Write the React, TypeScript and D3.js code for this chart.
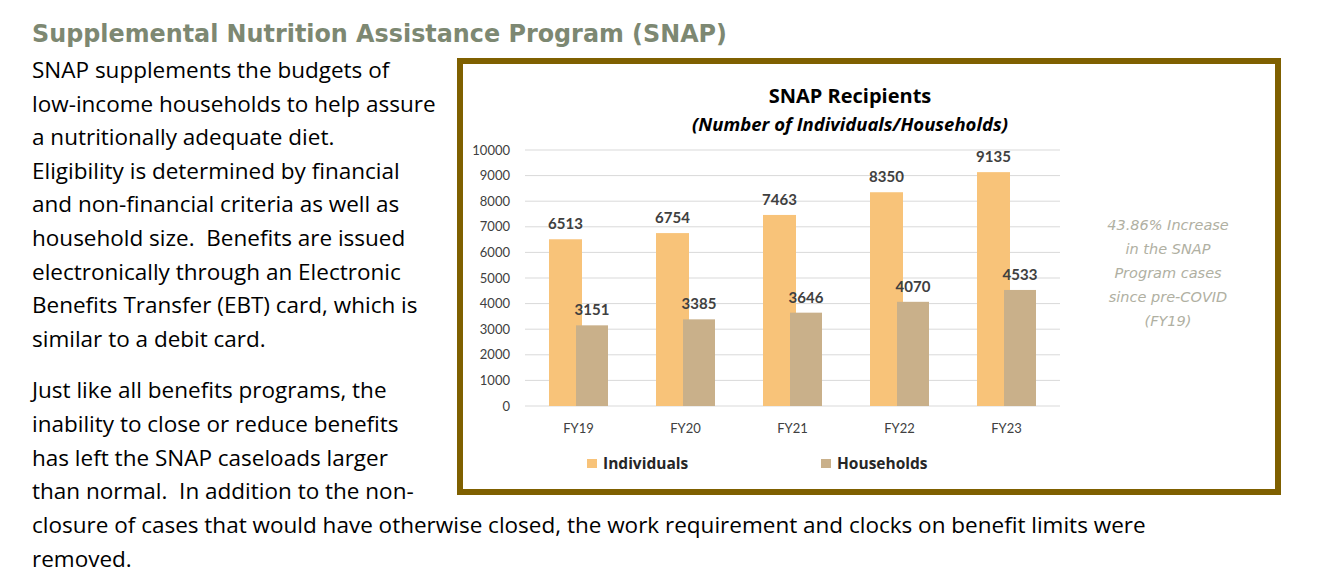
import React from "react";
import * as d3 from "d3";

const categories = ["FY19", "FY20", "FY21", "FY22", "FY23"];
const individuals = [6513, 6754, 7463, 8350, 9135];
const households = [3151, 3385, 3646, 4070, 4533];
const yTicks = [0, 1000, 2000, 3000, 4000, 5000, 6000, 7000, 8000, 9000, 10000];
const seriesNames = ["Individuals", "Households"];
const pageTitle = "Supplemental Nutrition Assistance Program (SNAP)";
const chartTitle = "SNAP Recipients";
const chartSubtitle = "(Number of Individuals/Households)";
const noteLines = ["43.86% Increase", "in the SNAP", "Program cases", "since pre-COVID", "(FY19)"];
const bodyLines1 = [
  "SNAP supplements the budgets of",
  "low-income households to help assure",
  "a nutritionally adequate diet.",
  "Eligibility is determined by financial",
  "and non-financial criteria as well as",
  "household size.  Benefits are issued",
  "electronically through an Electronic",
  "Benefits Transfer (EBT) card, which is",
  "similar to a debit card.",
];
const bodyLines2 = [
  "Just like all benefits programs, the",
  "inability to close or reduce benefits",
  "has left the SNAP caseloads larger",
  "than normal.  In addition to the non-",
  "closure of cases that would have otherwise closed, the work requirement and clocks on benefit limits were",
  "removed.",
];

const ORANGE = "#F8C379";
const TAN = "#C9B08A";
const LABEL = "#404040";
const FONT = "Lato, 'Open Sans', sans-serif";
const WIDE = "'Open Sans', sans-serif";

export default function App() {
  const x = d3.scaleBand<string>().domain(categories).range([525, 1060]).padding(0);
  const y = d3.scaleLinear().domain([0, 10000]).range([406, 150]);
  const cx = (c: string) => (x(c) as number) + x.bandwidth() / 2;
  const barW = 33;

  return (
    <svg
      width={1321}
      height={579}
      style={{ position: "absolute", left: 0, top: 0, background: "#fff" }}
      fontFamily={FONT}
    >
      <rect x={0} y={0} width={1321} height={579} fill="#fff" />
      {/* page title */}
      <text
        x={32}
        y={42}
        fontFamily="'DejaVu Sans', sans-serif"
        fontWeight={700}
        fontSize={25}
        fill="#7D8872"
        textLength={695}
        lengthAdjust="spacingAndGlyphs"
      >
        {pageTitle}
      </text>
      {/* body text */}
      {bodyLines1.map((l, i) => (
        <text key={"a" + i} x={32} y={78 + i * 33.6} fontFamily={WIDE} fontSize={22.5} fill="#000" style={{ whiteSpace: "pre" }}>
          {l}
        </text>
      ))}
      {bodyLines2.map((l, i) => (
        <text key={"b" + i} x={32} y={398 + i * 33.8} fontFamily={WIDE} fontSize={22.5} fill="#000" style={{ whiteSpace: "pre" }}>
          {l}
        </text>
      ))}

      {/* chart box */}
      <rect x={460} y={61} width={818} height={431} fill="#fff" stroke="#7F6000" strokeWidth={6} />

      <text x={850} y={103} textAnchor="middle" fontFamily={WIDE} fontWeight={700} fontSize={20} fill="#000">
        {chartTitle}
      </text>
      <text x={850} y={131} textAnchor="middle" fontFamily={WIDE} fontWeight={700} fontStyle="italic" fontSize={18.5} fill="#000">
        {chartSubtitle}
      </text>

      {/* gridlines */}
      {yTicks.map((t) => (
        <g key={t}>
          <line x1={525} x2={1060} y1={y(t)} y2={y(t)} stroke="#D9D9D9" strokeWidth={1} />
          <text x={510} y={y(t) + 4.5} textAnchor="end" fontSize={13} fill={LABEL}>
            {t}
          </text>
        </g>
      ))}

      {/* bars */}
      {categories.map((c, i) => {
        const c0 = cx(c);
        const ox = c0 - 29.5;
        const hx = c0 - 2.5;
        return (
          <g key={c}>
            <rect x={ox} y={y(individuals[i])} width={barW} height={y(0) - y(individuals[i])} fill={ORANGE} />
            <rect x={hx} y={y(households[i])} width={barW - 1} height={y(0) - y(households[i])} fill={TAN} />
            <text x={ox + barW / 2} y={y(individuals[i]) - 10} textAnchor="middle" fontWeight={700} fontSize={15} fill={LABEL}>
              {individuals[i]}
            </text>
            <text x={hx + (barW - 1) / 2} y={y(households[i]) - 10} textAnchor="middle" fontWeight={700} fontSize={15} fill={LABEL}>
              {households[i]}
            </text>
            <text x={c0} y={433} textAnchor="middle" fontSize={13} fill={LABEL}>
              {c}
            </text>
          </g>
        );
      })}

      {/* legend */}
      {seriesNames.map((s, i) => {
        const lx = i === 0 ? 587 : 821;
        return (
          <g key={s}>
            <rect x={lx} y={459} width={10} height={9} fill={i === 0 ? ORANGE : TAN} />
            <text x={lx + 16} y={469} fontFamily={WIDE} fontWeight={700} fontSize={15.5} fill="#262626">
              {s}
            </text>
          </g>
        );
      })}

      {/* note */}
      {noteLines.map((l, i) => (
        <text
          key={l}
          x={1168}
          y={230 + i * 24}
          textAnchor="middle"
          fontFamily="'DejaVu Sans', sans-serif"
          fontStyle="italic"
          fontSize={14.5}
          fill="#B0B0A2"
        >
          {l}
        </text>
      ))}
    </svg>
  );
}
